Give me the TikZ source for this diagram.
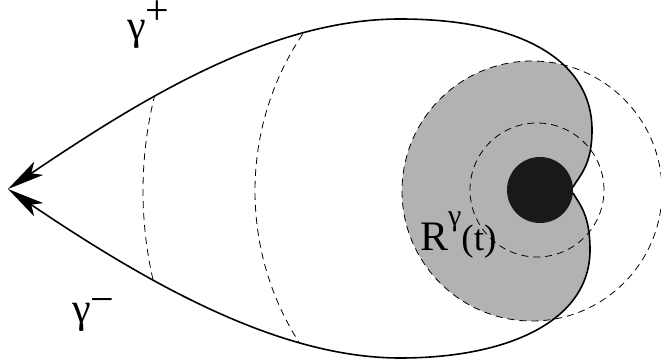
\documentclass[tikz,border=0pt]{standalone}
\usepackage{fontspec}
\setmainfont{Liberation Serif}
\usetikzlibrary{arrows.meta}

\newcommand{\LblSize}{\fontsize{42}{46}\selectfont}

\tikzset{
  curve/.style={line width=1.6pt, -{Stealth[length=37pt,width=16pt,inset=9pt]}},
  guide/.style={line width=0.8pt, dash pattern=on 7pt off 5pt},
  lbl/.style={anchor=base west, inner sep=0pt, font=\LblSize},
}

\begin{document}
\begin{tikzpicture}[x=1pt,y=-1pt]
  \useasboundingbox (0,0) rectangle (661,363);
  \coordinate (tip)   at (8,189);
  \coordinate (cuspU) at (573,187);
  \coordinate (cuspL) at (573,193);
  \coordinate (ctr)   at (537,191);
  % region R^gamma(t): big disc inside the curve
  \begin{scope}
    \clip (cuspU) .. controls (580,175) and (592,165) .. (592,130)
       .. controls (592,60) and (520,19) .. (400,19)
       .. controls (270,19) and (140,100) .. (tip)
       .. controls (150,285) and (280,358) .. (400,358)
       .. controls (510,358) and (590,320) .. (590,250)
       .. controls (590,215) and (580,205) .. (cuspL) -- cycle;
    \fill[black!30] (532,191) circle (130pt);
    \draw[guide] (ctr) circle (282pt);
    \draw[guide] (ctr) circle (394pt);
  \end{scope}
  \draw[guide] (532,191) circle (130pt);
  \draw[guide] (537,190) circle (67pt);
  \node[circle, fill=black!90, minimum size=66pt, inner sep=0pt] (blob) at (540,190) {};
  % gamma+ and gamma-
  \draw[curve] (cuspU) .. controls (580,175) and (592,165) .. (592,130)
     .. controls (592,60) and (520,19) .. (400,19)
     .. controls (270,19) and (140,100) .. (tip);
  \draw[curve] (cuspL) .. controls (580,205) and (590,215) .. (590,250)
     .. controls (590,320) and (510,358) .. (400,358)
     .. controls (280,358) and (150,285) .. (tip);
  \node[lbl] (gplus)  at (127,40)  {γ\raisebox{15pt}{+}};
  \node[lbl] (gminus) at (72,322)  {γ\raisebox{9pt}{−}};
  \node[lbl] (rlabel) at (420,251) {R\raisebox{25pt}{\fontsize{30}{32}\selectfont γ}\fontsize{37}{40}\selectfont(t)};
\end{tikzpicture}
\end{document}
